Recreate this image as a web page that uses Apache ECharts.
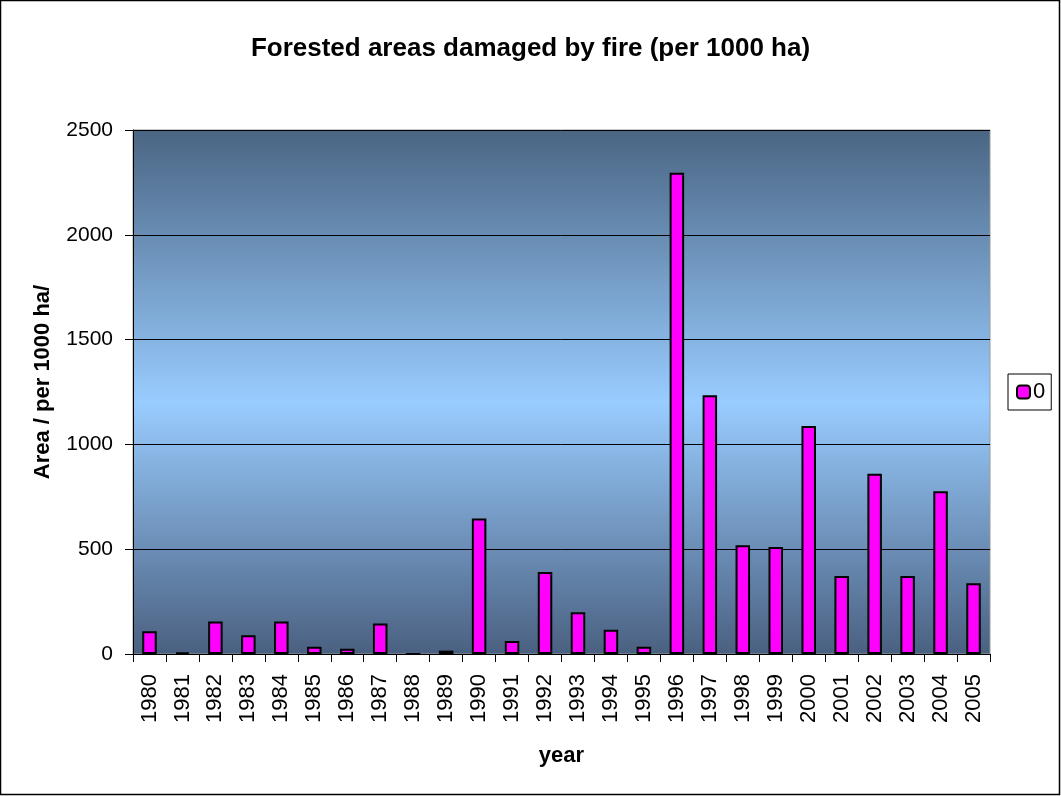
<!DOCTYPE html>
<html>
<head>
<meta charset="utf-8">
<script src="https://cdn.jsdelivr.net/npm/echarts@6/dist/echarts.min.js"></script>
<style>
  html, body { margin: 0; padding: 0; background: #fff; }
  #main { width: 1061px; height: 796px; }
</style>
</head>
<body>
<div id="main"></div>
<script>
  // data
  const years = ['1980', '1981', '1982', '1983', '1984', '1985', '1986', '1987', '1988', '1989',
    '1990', '1991', '1992', '1993', '1994', '1995', '1996', '1997', '1998', '1999',
    '2000', '2001', '2002', '2003', '2004', '2005'];
  const areaValues = [108, 8, 155, 90, 155, 35, 25, 146, 0, 16,
    647, 62, 391, 199, 116, 35, 2296, 1234, 519, 510,
    1088, 372, 860, 372, 776, 337];
  const seriesName = '0';

  const myChart = echarts.init(document.getElementById('main'));

  const option = {
    backgroundColor: '#fff',
    animation: false,
    textStyle: {
      fontFamily: 'Liberation Sans, Arial, sans-serif',
      color: '#000'
    },
    title: {
      text: 'Forested areas damaged by fire (per 1000 ha)',
      left: 'center',
      top: 31,
      textStyle: {
        fontSize: 26,
        fontWeight: 'bold',
        color: '#000',
        fontFamily: 'Liberation Sans, Arial, sans-serif'
      }
    },
    graphic: [{
      type: 'rect',
      shape: { x: 0.5, y: 0.5, width: 1059, height: 794 },
      style: { fill: 'none', stroke: '#000', lineWidth: 1.5 },
      silent: true
    }],
    legend: {
      data: [seriesName],
      left: 1008,
      top: 374,
      orient: 'vertical',
      borderColor: '#000',
      borderWidth: 1,
      padding: [7, 6, 7, 8],
      itemWidth: 13,
      itemHeight: 13,
      itemGap: 0,
      textStyle: { fontSize: 22, color: '#000', padding: [0, 0, 0, -2] }
    },
    grid: {
      left: 133,
      right: 71,
      top: 130,
      bottom: 142,
      show: true,
      borderColor: '#999',
      borderWidth: 1,
      backgroundColor: new echarts.graphic.LinearGradient(0, 0, 0, 1, [
        { offset: 0, color: '#4a6583' },
        { offset: 0.52, color: '#99ccff' },
        { offset: 1, color: '#4a6080' }
      ])
    },
    xAxis: {
      type: 'category',
      data: years,
      name: 'year',
      nameLocation: 'middle',
      nameGap: 91,
      nameTextStyle: { fontSize: 22, fontWeight: 'bold', color: '#000' },
      axisLine: { lineStyle: { color: '#000', width: 1 } },
      axisTick: { show: true, alignWithLabel: false, length: 8, lineStyle: { color: '#000' } },
      axisLabel: { rotate: 90, fontSize: 22, color: '#000', margin: 20 },
      splitLine: { show: false }
    },
    yAxis: {
      type: 'value',
      min: 0,
      max: 2500,
      interval: 500,
      name: 'Area / per 1000 ha/',
      nameLocation: 'middle',
      nameGap: 79,
      nameTextStyle: { fontSize: 22, fontWeight: 'bold', color: '#000', padding: [0, 0, 0, 20] },
      axisLine: { show: true, lineStyle: { color: '#000', width: 1 } },
      axisTick: { show: true, length: 8, lineStyle: { color: '#000' } },
      axisLabel: { fontSize: 21, color: '#000', margin: 20, formatter: (v) => String(v) },
      splitLine: { show: true, lineStyle: { color: '#000', width: 1 } }
    },
    series: [{
      name: seriesName,
      type: 'bar',
      data: areaValues,
      barWidth: '44%',
      itemStyle: {
        color: '#ff00ff',
        borderColor: '#000',
        borderWidth: 2
      }
    }]
  };

  myChart.setOption(option);
</script>
</body>
</html>
